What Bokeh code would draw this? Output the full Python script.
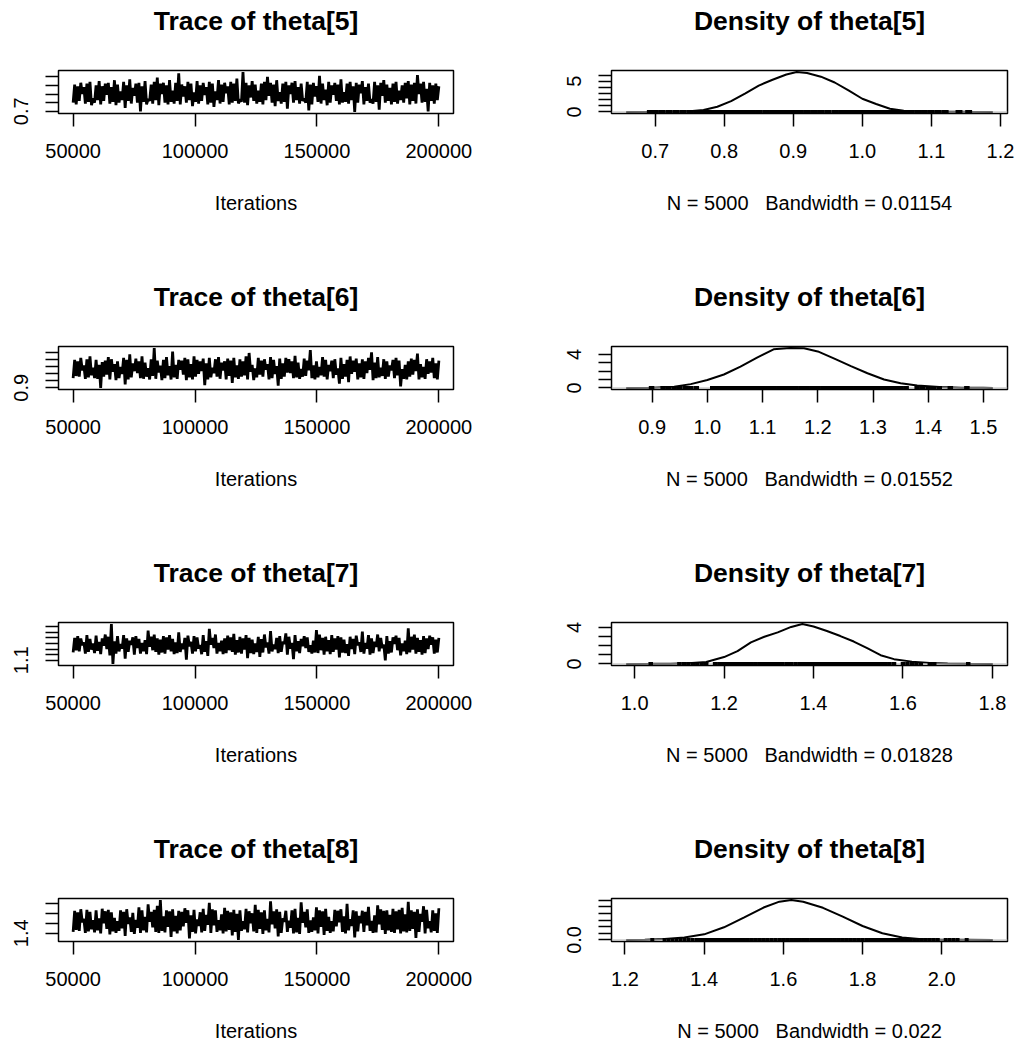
from bokeh.plotting import figure
from bokeh.layouts import column, row
from bokeh.models import Range1d, FixedTicker
from bokeh.core.properties import value
from bokeh.embed import file_html
from bokeh.resources import INLINE

# ---------------- data ----------------
PARAMS = ["theta[5]", "theta[6]", "theta[7]", "theta[8]"]
ITER_START, ITER_END = 50000, 200000
N_SAMPLES = 5000
BANDWIDTHS = ["0.01154", "0.01552", "0.01828", "0.022"]
VALUE_RESOLUTION = 0.01   # precision to which the thinned samples were read

TRACE_5 = [
    0.80, 1.01, 0.78, 0.99, 0.82, 1.03, 0.90, 0.98, 0.79, 1.02,
    0.81, 1.04, 0.77, 0.85, 0.80, 1.00, 0.83, 1.05, 0.78, 0.99,
    0.82, 1.02, 0.89, 1.03, 0.79, 0.98, 0.81, 1.06, 0.77, 1.01,
    0.80, 0.93, 0.83, 1.04, 0.74, 1.00, 0.82, 1.07, 0.79, 0.97,
    0.88, 1.02, 0.80, 1.03, 0.70, 0.99, 0.81, 1.05, 0.78, 0.84,
    0.82, 1.01, 0.79, 1.04, 0.83, 1.09, 0.77, 1.02, 0.90, 1.03,
    0.80, 1.00, 0.78, 1.06, 0.81, 0.94, 0.79, 1.03, 0.82, 1.14,
    0.78, 1.01, 0.87, 0.99, 0.80, 1.04, 0.83, 1.02, 0.76, 0.92,
    0.81, 1.05, 0.79, 1.00, 0.82, 1.03, 0.89, 0.98, 0.78, 1.04,
    0.80, 1.02, 0.75, 0.93, 0.83, 1.06, 0.79, 1.01, 0.81, 1.03,
    0.91, 0.99, 0.78, 1.04, 0.80, 1.02, 0.82, 1.08, 0.79, 0.84,
    0.81, 1.154, 0.80, 1.03, 0.77, 1.00, 0.86, 1.05, 0.82, 1.01,
    0.79, 0.94, 0.81, 1.02, 0.78, 1.04, 0.83, 1.10, 0.88, 1.03,
    0.80, 1.01, 0.76, 1.06, 0.82, 0.92, 0.79, 1.02, 0.81, 1.04,
    0.73, 1.00, 0.90, 1.03, 0.80, 1.05, 0.83, 0.98, 0.79, 1.02,
    0.82, 0.85, 0.80, 1.04, 0.71, 1.01, 0.78, 1.03, 0.87, 0.99,
    0.81, 1.11, 0.79, 1.02, 0.83, 0.95, 0.77, 1.04, 0.80, 1.00,
    0.89, 1.03, 0.82, 1.01, 0.78, 1.07, 0.80, 0.92, 0.81, 1.02,
    0.79, 1.04, 0.83, 0.99, 0.693, 1.03, 0.80, 1.01, 0.91, 1.05,
    0.78, 0.98, 0.82, 1.02, 0.80, 0.84, 0.79, 1.04, 0.81, 1.00,
    0.72, 1.03, 0.88, 1.06, 0.80, 1.01, 0.82, 0.97, 0.78, 1.02,
    0.81, 1.04, 0.79, 0.94, 0.83, 1.00, 0.80, 1.03, 0.85, 1.05,
    0.78, 1.01, 0.82, 1.03, 0.79, 1.12, 0.90, 1.02, 0.80, 1.04,
    0.81, 0.96, 0.70, 1.03, 0.82, 1.00, 0.79, 1.02, 0.83, 0.99,
]
TRACE_6 = [
    1.04, 1.30, 1.07, 1.28, 1.06, 1.33, 1.15, 1.22, 1.03, 1.31,
    1.05, 1.35, 1.08, 1.19, 1.04, 1.30, 1.03, 1.23, 0.899, 1.27,
    1.06, 1.29, 1.09, 1.34, 1.02, 1.31, 1.13, 1.24, 1.01, 1.28,
    1.04, 1.20, 1.10, 1.33, 0.95, 1.30, 1.02, 1.38, 1.05, 1.25,
    1.14, 1.32, 1.11, 1.28, 1.04, 1.35, 1.03, 1.26, 1.06, 1.18,
    1.02, 1.31, 1.07, 1.47, 1.03, 1.29, 1.12, 1.22, 1.01, 1.30,
    1.04, 1.34, 1.08, 1.21, 1.02, 1.42, 1.05, 1.23, 1.03, 1.30,
    1.16, 1.29, 1.09, 1.33, 1.01, 1.31, 1.05, 1.24, 1.02, 1.35,
    1.06, 1.30, 1.10, 1.28, 1.14, 1.32, 0.94, 1.25, 1.02, 1.33,
    1.05, 1.19, 1.11, 1.31, 1.06, 1.34, 1.03, 1.26, 1.15, 1.28,
    1.02, 1.32, 1.07, 1.29, 0.97, 1.33, 1.05, 1.22, 1.03, 1.31,
    1.06, 1.28, 1.08, 1.35, 1.02, 1.40, 1.13, 1.23, 1.01, 1.18,
    1.05, 1.33, 1.09, 1.29, 1.06, 1.31, 1.16, 1.24, 1.02, 1.34,
    1.04, 1.30, 1.10, 1.21, 0.93, 1.32, 1.03, 1.25, 1.06, 1.33,
    1.12, 1.31, 1.11, 1.28, 1.04, 1.36, 1.05, 1.26, 1.03, 1.17,
    1.06, 1.32, 1.07, 1.29, 1.15, 1.44, 1.04, 1.22, 1.02, 1.28,
    1.05, 1.20, 1.08, 1.34, 1.06, 1.30, 1.02, 1.23, 1.14, 1.29,
    1.04, 1.31, 1.09, 1.18, 0.96, 1.33, 1.03, 1.24, 1.06, 1.30,
    0.98, 1.35, 1.10, 1.29, 1.13, 1.32, 1.02, 1.25, 1.05, 1.31,
    1.03, 1.28, 1.11, 1.33, 1.16, 1.41, 1.01, 1.26, 1.04, 1.34,
    1.05, 1.19, 1.07, 1.31, 1.03, 1.28, 1.06, 1.22, 1.15, 1.30,
    1.04, 1.33, 1.08, 1.29, 0.92, 1.17, 1.03, 1.23, 1.02, 1.28,
    1.06, 1.32, 1.09, 1.30, 1.14, 1.39, 1.02, 1.24, 1.05, 1.20,
    1.03, 1.31, 1.10, 1.28, 1.12, 1.33, 1.04, 1.25, 1.02, 1.29,
]
TRACE_7 = [
    1.24, 1.50, 1.28, 1.53, 1.26, 1.49, 1.37, 1.42, 1.22, 1.55,
    1.25, 1.48, 1.29, 1.40, 1.23, 1.54, 1.27, 1.43, 1.21, 1.49,
    1.36, 1.56, 1.30, 1.52, 1.19, 1.746, 1.036, 1.44, 1.22, 1.53,
    1.26, 1.39, 1.31, 1.55, 1.13, 1.49, 1.25, 1.45, 1.38, 1.51,
    1.20, 1.53, 1.32, 1.48, 1.22, 1.41, 1.26, 1.46, 1.21, 1.63,
    1.34, 1.52, 1.28, 1.56, 1.25, 1.49, 1.20, 1.47, 1.24, 1.53,
    1.22, 1.51, 1.29, 1.55, 1.26, 1.48, 1.21, 1.42, 1.23, 1.60,
    1.25, 1.40, 1.30, 1.50, 1.11, 1.54, 1.35, 1.43, 1.22, 1.53,
    1.26, 1.51, 1.31, 1.37, 1.21, 1.55, 1.25, 1.44, 1.18, 1.66,
    1.38, 1.50, 1.32, 1.56, 1.22, 1.41, 1.26, 1.45, 1.21, 1.49,
    1.23, 1.54, 1.28, 1.51, 1.25, 1.57, 1.20, 1.46, 1.24, 1.52,
    1.22, 1.49, 1.29, 1.55, 1.14, 1.50, 1.23, 1.47, 1.21, 1.40,
    1.25, 1.52, 1.16, 1.48, 1.24, 1.56, 1.33, 1.42, 1.22, 1.62,
    1.26, 1.38, 1.30, 1.50, 1.23, 1.53, 1.25, 1.43, 1.39, 1.58,
    1.20, 1.52, 1.31, 1.41, 1.12, 1.55, 1.26, 1.44, 1.23, 1.48,
    1.35, 1.53, 1.32, 1.51, 1.25, 1.37, 1.22, 1.45, 1.24, 1.64,
    1.23, 1.56, 1.28, 1.50, 1.20, 1.52, 1.26, 1.46, 1.21, 1.55,
    1.25, 1.49, 1.29, 1.53, 1.15, 1.51, 1.24, 1.47, 1.23, 1.39,
    1.18, 1.52, 1.30, 1.48, 1.21, 1.54, 1.37, 1.42, 1.25, 1.61,
    1.22, 1.41, 1.31, 1.55, 1.20, 1.49, 1.23, 1.43, 1.34, 1.56,
    1.26, 1.50, 1.32, 1.38, 1.10, 1.53, 1.22, 1.44, 1.24, 1.51,
    1.39, 1.54, 1.28, 1.50, 1.19, 1.40, 1.26, 1.45, 1.21, 1.67,
    1.24, 1.52, 1.29, 1.56, 1.22, 1.50, 1.25, 1.46, 1.20, 1.53,
    1.23, 1.49, 1.30, 1.54, 1.38, 1.51, 1.22, 1.47, 1.24, 1.50,
]
TRACE_8 = [
    1.43, 1.85, 1.47, 1.82, 1.45, 1.88, 1.62, 1.69, 1.41, 1.87,
    1.44, 1.83, 1.48, 1.66, 1.42, 1.86, 1.46, 1.70, 1.40, 1.89,
    1.60, 1.84, 1.49, 1.87, 1.38, 1.82, 1.44, 1.71, 1.41, 1.64,
    1.45, 1.86, 1.50, 1.83, 1.35, 1.88, 1.59, 1.72, 1.43, 1.81,
    1.39, 1.67, 1.51, 1.92, 1.41, 1.86, 1.46, 1.73, 1.42, 1.98,
    1.63, 1.83, 1.52, 1.87, 1.43, 1.95, 1.41, 2.063, 1.45, 1.74,
    1.42, 1.86, 1.53, 1.84, 1.33, 1.88, 1.44, 1.75, 1.40, 1.85,
    1.46, 1.83, 1.54, 1.90, 1.61, 1.86, 1.30, 1.76, 1.43, 1.87,
    1.40, 1.68, 1.55, 1.82, 1.42, 1.89, 1.45, 1.77, 1.57, 2.01,
    1.41, 1.88, 1.56, 1.86, 1.43, 1.66, 1.46, 1.78, 1.40, 1.91,
    1.44, 1.85, 1.47, 1.82, 1.36, 1.87, 1.43, 1.79, 1.269, 1.86,
    1.45, 1.64, 1.48, 1.89, 1.42, 1.84, 1.60, 1.80, 1.44, 1.97,
    1.41, 1.87, 1.49, 1.82, 1.39, 1.86, 1.46, 1.69, 1.42, 2.04,
    1.58, 1.84, 1.50, 1.88, 1.34, 1.83, 1.41, 1.70, 1.63, 1.85,
    1.43, 1.65, 1.51, 1.86, 1.40, 1.89, 1.42, 1.71, 1.39, 2.02,
    1.61, 1.83, 1.52, 1.88, 1.41, 1.66, 1.43, 1.72, 1.46, 1.92,
    1.40, 1.86, 1.53, 1.84, 1.37, 1.89, 1.45, 1.73, 1.41, 1.64,
    1.44, 1.87, 1.54, 1.85, 1.62, 1.88, 1.43, 1.74, 1.40, 1.99,
    1.46, 1.68, 1.55, 1.86, 1.32, 1.84, 1.44, 1.75, 1.60, 1.85,
    1.43, 1.83, 1.56, 1.93, 1.45, 1.65, 1.41, 1.76, 1.42, 1.96,
    1.58, 1.88, 1.47, 1.85, 1.39, 1.86, 1.46, 1.77, 1.43, 1.89,
    1.41, 1.84, 1.48, 1.87, 1.40, 1.91, 1.44, 1.78, 1.42, 2.03,
    1.45, 1.86, 1.49, 1.83, 1.31, 1.88, 1.43, 1.79, 1.63, 1.94,
    1.40, 1.87, 1.50, 1.64, 1.42, 1.86, 1.45, 1.80, 1.41, 1.90,
]
TRACES = [TRACE_5, TRACE_6, TRACE_7, TRACE_8]

# kernel density estimates (x grid, density)
DENS_5_X = [0.658, 0.70, 0.73, 0.75, 0.77, 0.79, 0.81, 0.83, 0.85, 0.87, 0.89, 0.905,
            0.92, 0.94, 0.96, 0.98, 1.00, 1.02, 1.04, 1.06, 1.08, 1.11, 1.15, 1.189]
DENS_5_Y = [0.0, 0.01, 0.04, 0.10, 0.30, 0.85, 1.75, 3.0, 4.3, 5.25, 6.1, 6.5,
            6.35, 5.75, 4.8, 3.5, 2.15, 1.3, 0.52, 0.18, 0.07, 0.03, 0.01, 0.0]
DENS_6_X = [0.853, 0.90, 0.94, 0.97, 1.00, 1.03, 1.06, 1.09, 1.12, 1.15, 1.175,
            1.20, 1.23, 1.26, 1.29, 1.32, 1.35, 1.38, 1.42, 1.46, 1.50, 1.517]
DENS_6_Y = [0.0, 0.03, 0.15, 0.45, 0.95, 1.6, 2.55, 3.6, 4.6, 4.75, 4.72,
            4.35, 3.5, 2.6, 1.75, 1.0, 0.55, 0.28, 0.10, 0.03, 0.01, 0.0]
DENS_7_X = [0.981, 1.03, 1.08, 1.12, 1.16, 1.20, 1.23, 1.26, 1.29, 1.32, 1.35, 1.375,
            1.40, 1.43, 1.46, 1.49, 1.52, 1.55, 1.58, 1.62, 1.66, 1.70, 1.75, 1.801]
DENS_7_Y = [0.0, 0.01, 0.03, 0.07, 0.2, 0.75, 1.4, 2.35, 2.97, 3.45, 4.05, 4.36,
            4.1, 3.6, 3.05, 2.45, 1.72, 0.95, 0.52, 0.25, 0.11, 0.05, 0.02, 0.0]
DENS_8_X = [1.203, 1.25, 1.30, 1.35, 1.40, 1.45, 1.50, 1.55, 1.59, 1.62,
            1.65, 1.70, 1.75, 1.80, 1.85, 1.90, 1.95, 2.00, 2.06, 2.129]
DENS_8_Y = [0.0, 0.02, 0.06, 0.18, 0.42, 0.95, 1.68, 2.44, 2.88, 3.0,
            2.88, 2.42, 1.75, 1.05, 0.5, 0.18, 0.05, 0.02, 0.01, 0.0]
DENS_X = [DENS_5_X, DENS_6_X, DENS_7_X, DENS_8_X]
DENS_Y = [DENS_5_Y, DENS_6_Y, DENS_7_Y, DENS_8_Y]

# tick labels
TRACE_X_TICKS = [50000, 100000, 150000, 200000]
TRACE_X_LABELS = ["50000", "100000", "150000", "200000"]
TRACE_Y_TICKS = [[0.7, 0.8, 0.9, 1.0, 1.1],
                 [0.9, 1.0, 1.1, 1.2, 1.3, 1.4],
                 [1.1, 1.2, 1.3, 1.4, 1.5, 1.6, 1.7],
                 [1.4, 1.6, 1.8, 2.0]]
TRACE_Y_LABELS = [["0.7", "", "", "", ""],
                  ["0.9", "", "", "", "", ""],
                  ["1.1", "", "", "", "", "", ""],
                  ["1.4", "", "", ""]]
DENS_X_TICKS = [[0.7, 0.8, 0.9, 1.0, 1.1, 1.2],
                [0.9, 1.0, 1.1, 1.2, 1.3, 1.4, 1.5],
                [1.0, 1.2, 1.4, 1.6, 1.8],
                [1.2, 1.4, 1.6, 1.8, 2.0]]
DENS_X_LABELS = [["0.7", "0.8", "0.9", "1.0", "1.1", "1.2"],
                 ["0.9", "1.0", "1.1", "1.2", "1.3", "1.4", "1.5"],
                 ["1.0", "1.2", "1.4", "1.6", "1.8"],
                 ["1.2", "1.4", "1.6", "1.8", "2.0"]]
DENS_Y_TICKS = [[0, 1, 2, 3, 4, 5, 6],
                [0, 1, 2, 3, 4],
                [0, 1, 2, 3, 4],
                [0.0, 0.5, 1.0, 1.5, 2.0, 2.5, 3.0]]
DENS_Y_LABELS = [["0", "", "", "", "", "5", ""],
                 ["0", "", "", "", "4"],
                 ["0", "", "", "", "4"],
                 ["0.0", "", "", "", "", "", ""]]

# ---------------- styling ----------------
FONT = "Liberation Sans"
COL_W = 511
ROW_H = [276, 276, 276, 218]
TITLE_H = 45          # height of the strip holding the main titles
TITLE_CY = 20         # title centre, px from the top of the strip
FRAME_TOP = 25        # frame top inside the plot figure (below the strip)
FRAME_H = 43
TRACE_BORDERS = (58, 58)    # left, right
DENS_BORDERS = (100, 15)


def pad(lo, hi):
    d = (hi - lo) * 0.04
    return lo - d, hi + d


def title_strip(texts):
    w = 2 * COL_W
    t = figure(width=w, height=TITLE_H, output_backend="svg", toolbar_location=None,
               title=None, x_range=Range1d(0, w), y_range=Range1d(0, TITLE_H),
               x_axis_location=None, y_axis_location=None,
               min_border_left=0, min_border_right=0, min_border_top=0, min_border_bottom=0)
    t.grid.visible = False
    t.outline_line_color = None
    t.background_fill_color = "white"
    t.border_fill_color = "white"
    xs = []
    for k, b in enumerate((TRACE_BORDERS, DENS_BORDERS)):
        xs.append(k * COL_W + b[0] + (COL_W - b[0] - b[1]) / 2)
    t.text(x=xs, y=[TITLE_H - TITLE_CY] * 2, text=texts,
           text_font=value(FONT), text_font_size=value("26.5px"),
           text_font_style="bold", text_color="black",
           text_align="center", text_baseline="middle")
    return t


def style(p, xticks, xlabels, yticks, ylabels, xtitle):
    p.grid.visible = False
    p.outline_line_color = "black"
    p.outline_line_width = 1.5
    p.background_fill_color = "white"
    p.border_fill_color = "white"
    for ax in (p.xaxis[0], p.yaxis[0]):
        ax.axis_line_color = None
        ax.major_tick_in = 0
        ax.major_tick_out = 13
        ax.major_tick_line_width = 1.5
        ax.major_tick_line_color = "black"
        ax.minor_tick_line_color = None
        ax.major_label_text_font = FONT
        ax.major_label_text_font_size = "20px"
        ax.major_label_text_color = "black"
    p.xaxis.ticker = FixedTicker(ticks=xticks)
    p.xaxis.major_label_overrides = {t: l for t, l in zip(xticks, xlabels)}
    p.xaxis.major_label_standoff = 17
    p.xaxis.axis_label = xtitle
    p.xaxis.axis_label_text_font = FONT
    p.xaxis.axis_label_text_font_size = "20px"
    p.xaxis.axis_label_text_font_style = "normal"
    p.xaxis.axis_label_text_color = "black"
    p.xaxis.axis_label_standoff = 31
    p.yaxis.ticker = FixedTicker(ticks=yticks)
    p.yaxis.major_label_overrides = {t: l for t, l in zip(yticks, ylabels)}
    p.yaxis.major_label_orientation = "vertical"
    p.yaxis.major_label_standoff = 17


rows = []
for i, name in enumerate(PARAMS):
    h = ROW_H[i] - TITLE_H
    bottom = h - FRAME_TOP - FRAME_H
    vals = TRACES[i]
    n = len(vals)
    iters = [ITER_START + (ITER_END - ITER_START) * k / (n - 1) for k in range(n)]

    # trace plot
    ylo, yhi = pad(min(vals), max(vals))
    xlo, xhi = pad(ITER_START, ITER_END)
    pt = figure(width=COL_W, height=h, output_backend="svg", toolbar_location=None,
                title=None, x_range=Range1d(xlo, xhi), y_range=Range1d(ylo, yhi),
                min_border_left=TRACE_BORDERS[0], min_border_right=TRACE_BORDERS[1],
                min_border_top=FRAME_TOP, min_border_bottom=bottom)
    pt.line(iters, vals, line_color="black", line_width=2.8)
    style(pt, TRACE_X_TICKS, TRACE_X_LABELS, TRACE_Y_TICKS[i], TRACE_Y_LABELS[i],
          "Iterations")

    # density plot
    dx, dy = DENS_X[i], DENS_Y[i]
    m = max(dy)
    dxlo, dxhi = pad(dx[0], dx[-1])
    dylo, dyhi = pad(0, m)
    pd_ = figure(width=COL_W, height=h, output_backend="svg", toolbar_location=None,
                 title=None, x_range=Range1d(dxlo, dxhi), y_range=Range1d(dylo, dyhi),
                 min_border_left=DENS_BORDERS[0], min_border_right=DENS_BORDERS[1],
                 min_border_top=FRAME_TOP, min_border_bottom=bottom)
    pd_.line(dx, dy, line_color="black", line_width=2)
    pd_.line([dxlo, dxhi], [0, 0], line_color="#BEBEBE", line_width=1)
    # rug of the observations
    pd_.rect(x=vals, y=[0] * n, width=VALUE_RESOLUTION, height=4, height_units="screen",
             fill_color="black", line_color=None)
    style(pd_, DENS_X_TICKS[i], DENS_X_LABELS[i], DENS_Y_TICKS[i], DENS_Y_LABELS[i],
          "N = %d \u00a0 Bandwidth = %s" % (N_SAMPLES, BANDWIDTHS[i]))

    strip = title_strip(["Trace of " + name, "Density of " + name])
    rows.append(column(strip, row(pt, pd_)))

layout = column(*rows)
open("out.html", "w").write(file_html(layout, INLINE))
